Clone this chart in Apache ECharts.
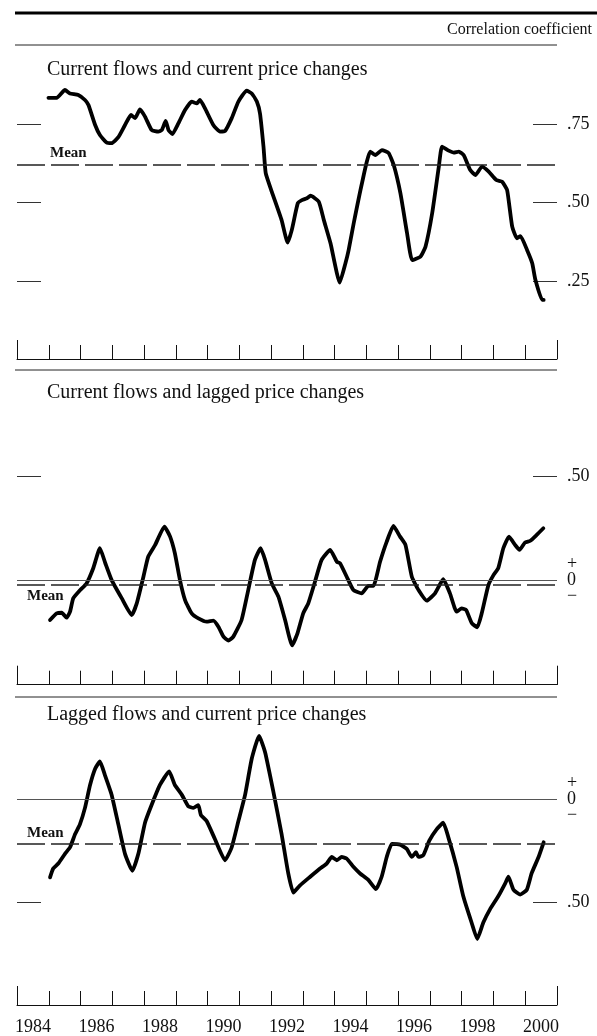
<!DOCTYPE html>
<html>
<head>
<meta charset="utf-8">
<script src="https://cdn.jsdelivr.net/npm/echarts@6/dist/echarts.min.js"></script>
<style>
  html, body { margin: 0; background: #fff; }
  #chart { width: 597px; height: 1036px; }
</style>
</head>
<body>
<div id="chart"></div>
<script>
const FONT = '"Liberation Serif", "DejaVu Serif", serif';

// x axis: one tick per year boundary, labels centred in every other year
const yearTicks = [1984, 1985, 1986, 1987, 1988, 1989, 1990, 1991, 1992, 1993, 1994, 1995, 1996, 1997, 1998, 1999, 2000, 2001];
const yearLabels = [1984, 1986, 1988, 1990, 1992, 1994, 1996, 1998, 2000];

// panel titles
const panelTitles = [
  'Current flows and current price changes',
  'Current flows and lagged price changes',
  'Lagged flows and current price changes'
];

// panel 1: current flows / current price changes
const p1Years = [1984.99, 1985.25, 1985.51, 1985.67, 1985.93, 1986.14, 1986.25, 1986.46, 1986.61, 1986.82, 1986.98, 1987.19, 1987.40, 1987.59, 1987.72, 1987.87, 1988.03, 1988.24, 1988.45, 1988.56, 1988.68, 1988.77, 1988.89, 1989.08, 1989.29, 1989.50, 1989.66, 1989.76, 1989.92, 1990.18, 1990.39, 1990.55, 1990.76, 1990.97, 1991.23, 1991.39, 1991.55, 1991.65, 1991.76, 1991.83, 1992.02, 1992.33, 1992.52, 1992.65, 1992.84, 1992.97, 1993.13, 1993.24, 1993.50, 1993.66, 1993.87, 1994.16, 1994.34, 1994.44, 1994.60, 1994.86, 1995.12, 1995.28, 1995.49, 1995.70, 1995.86, 1996.07, 1996.28, 1996.44, 1996.70, 1996.86, 1997.07, 1997.28, 1997.38, 1997.59, 1997.75, 1997.91, 1998.06, 1998.27, 1998.43, 1998.64, 1998.85, 1999.09, 1999.27, 1999.43, 1999.59, 1999.74, 1999.85, 2000.06, 2000.22, 2000.32, 2000.53, 2000.58];
const p1Vals = [0.835, 0.835, 0.86, 0.849, 0.844, 0.828, 0.812, 0.748, 0.716, 0.692, 0.69, 0.709, 0.748, 0.78, 0.77, 0.798, 0.775, 0.732, 0.727, 0.732, 0.761, 0.732, 0.719, 0.753, 0.796, 0.823, 0.817, 0.828, 0.801, 0.748, 0.727, 0.729, 0.77, 0.823, 0.858, 0.849, 0.823, 0.785, 0.679, 0.594, 0.535, 0.444, 0.372, 0.412, 0.498, 0.508, 0.514, 0.522, 0.503, 0.444, 0.37, 0.244, 0.306, 0.348, 0.434, 0.562, 0.663, 0.652, 0.668, 0.658, 0.62, 0.53, 0.402, 0.316, 0.327, 0.359, 0.466, 0.615, 0.679, 0.666, 0.66, 0.663, 0.652, 0.604, 0.588, 0.615, 0.599, 0.572, 0.567, 0.54, 0.423, 0.386, 0.393, 0.348, 0.306, 0.253, 0.189, 0.189];
const p1Mean = 0.617;

// panel 2: current flows / lagged price changes
const p2Years = [1985.04, 1985.25, 1985.41, 1985.56, 1985.67, 1985.77, 1985.99, 1986.19, 1986.40, 1986.61, 1986.78, 1986.98, 1987.30, 1987.61, 1987.77, 1987.98, 1988.13, 1988.35, 1988.64, 1988.82, 1988.97, 1989.13, 1989.29, 1989.50, 1989.71, 1989.97, 1990.18, 1990.34, 1990.50, 1990.65, 1990.81, 1991.07, 1991.28, 1991.49, 1991.67, 1991.81, 1992.02, 1992.23, 1992.44, 1992.66, 1992.83, 1993.01, 1993.17, 1993.38, 1993.59, 1993.86, 1994.07, 1994.17, 1994.38, 1994.59, 1994.85, 1995.06, 1995.22, 1995.43, 1995.64, 1995.85, 1996.06, 1996.23, 1996.43, 1996.64, 1996.90, 1997.16, 1997.42, 1997.63, 1997.84, 1998.00, 1998.14, 1998.32, 1998.49, 1998.63, 1998.84, 1999.00, 1999.15, 1999.31, 1999.49, 1999.68, 1999.82, 1999.99, 2000.16, 2000.36, 2000.57];
const p2Vals = [-0.189, -0.157, -0.154, -0.178, -0.149, -0.085, -0.045, -0.013, 0.06, 0.156, 0.084, 0.003, -0.085, -0.165, -0.109, 0.019, 0.115, 0.172, 0.26, 0.212, 0.132, 0.003, -0.093, -0.157, -0.181, -0.197, -0.192, -0.221, -0.269, -0.288, -0.269, -0.189, -0.045, 0.1, 0.156, 0.1, -0.013, -0.077, -0.189, -0.311, -0.253, -0.157, -0.109, -0.005, 0.1, 0.148, 0.091, 0.084, 0.019, -0.045, -0.061, -0.025, -0.025, 0.091, 0.188, 0.263, 0.212, 0.172, 0.019, -0.045, -0.096, -0.061, 0.007, -0.061, -0.149, -0.133, -0.141, -0.205, -0.224, -0.157, -0.021, 0.027, 0.06, 0.156, 0.212, 0.172, 0.148, 0.183, 0.192, 0.22, 0.252];
const p2Mean = -0.016;

// panel 3: lagged flows / current price changes
const p3Years = [1985.04, 1985.14, 1985.30, 1985.51, 1985.67, 1985.83, 1985.98, 1986.14, 1986.30, 1986.46, 1986.61, 1986.77, 1986.98, 1987.19, 1987.40, 1987.63, 1987.82, 1988.03, 1988.24, 1988.50, 1988.79, 1988.97, 1989.19, 1989.39, 1989.55, 1989.71, 1989.79, 1989.97, 1990.23, 1990.55, 1990.76, 1990.97, 1991.18, 1991.39, 1991.62, 1991.81, 1992.07, 1992.33, 1992.54, 1992.70, 1992.91, 1993.23, 1993.54, 1993.75, 1993.91, 1994.07, 1994.22, 1994.38, 1994.59, 1994.80, 1995.06, 1995.30, 1995.48, 1995.64, 1995.80, 1996.06, 1996.27, 1996.43, 1996.56, 1996.64, 1996.79, 1996.98, 1997.21, 1997.42, 1997.58, 1997.84, 1998.05, 1998.31, 1998.49, 1998.68, 1998.89, 1999.15, 1999.37, 1999.47, 1999.63, 1999.84, 2000.05, 2000.20, 2000.42, 2000.58];
const p3Vals = [-0.381, -0.338, -0.314, -0.267, -0.235, -0.171, -0.124, -0.044, 0.067, 0.146, 0.181, 0.114, 0.019, -0.124, -0.267, -0.349, -0.267, -0.116, -0.029, 0.067, 0.133, 0.067, 0.019, -0.036, -0.044, -0.031, -0.079, -0.108, -0.195, -0.298, -0.235, -0.108, 0.019, 0.194, 0.305, 0.226, 0.035, -0.171, -0.362, -0.455, -0.42, -0.378, -0.338, -0.314, -0.282, -0.298, -0.282, -0.29, -0.33, -0.362, -0.393, -0.438, -0.378, -0.282, -0.219, -0.222, -0.243, -0.282, -0.259, -0.282, -0.274, -0.203, -0.148, -0.116, -0.187, -0.33, -0.473, -0.6, -0.68, -0.6, -0.536, -0.473, -0.41, -0.378, -0.441, -0.465, -0.441, -0.362, -0.282, -0.211];
const p3Mean = -0.222;

// y ticks and right-hand labels per panel
const p1Ticks = [0.25, 0.5, 0.75];
const p2Ticks = [0.5];
const p3Ticks = [-0.5];
const p1Labels = [0.25, 0.5, 0.75];
const p2Labels = [0, 0.5];
const p3Labels = [0, -0.5];

const chart = echarts.init(document.getElementById('chart'));

const grids = [
  { left: 17, right: 40, top: 46.2, height: 312.8 },
  { left: 17, right: 40, top: 476.7, height: 208 },
  { left: 17, right: 40, top: 695.7, height: 315 }
];
const yRanges = [[0, 1], [-0.5, 0.5], [-1, 0.5]];
const tickSets = [p1Ticks, p2Ticks, p3Ticks];
const labelSets = [p1Labels, p2Labels, p3Labels];

function fmtY(v) {
  if (v === 0) return '+\n0\n\u2212';
  return Math.abs(v).toFixed(2).replace(/^0/, '');
}

const xAxes = [];
const yAxes = [];
grids.forEach((g, i) => {
  xAxes.push({
    type: 'value', gridIndex: i, position: 'bottom', min: 1984, max: 2001, interval: 1,
    axisLine: { onZero: false, lineStyle: { color: '#111', width: 1 } },
    axisTick: { inside: true, length: 14, customValues: yearTicks, lineStyle: { color: '#111' } },
    splitLine: { show: false },
    axisLabel: i === 2 ? {
      customValues: yearLabels.map(y => y + 0.5),
      formatter: v => String(Math.floor(v)),
      color: '#111', fontFamily: FONT, fontSize: 18, margin: 13
    } : { show: false }
  });
  // taller end ticks
  xAxes.push({
    type: 'value', gridIndex: i, position: 'bottom', min: 1984, max: 2001,
    axisLine: { show: false, onZero: false },
    axisTick: { inside: true, length: 19, customValues: [1984, 2001], lineStyle: { color: '#111' } },
    axisLabel: { show: false }, splitLine: { show: false }
  });
  yAxes.push({
    type: 'value', gridIndex: i, position: 'left', min: yRanges[i][0], max: yRanges[i][1],
    axisLine: { show: false },
    axisTick: { show: true, inside: true, length: 24, customValues: tickSets[i], lineStyle: { color: '#333' } },
    axisLabel: { show: false }, splitLine: { show: false }
  });
  yAxes.push({
    type: 'value', gridIndex: i, position: 'right', min: yRanges[i][0], max: yRanges[i][1],
    axisLine: { show: false },
    axisTick: { show: true, inside: true, length: 24, customValues: tickSets[i], lineStyle: { color: '#333' } },
    axisLabel: {
      customValues: labelSets[i], formatter: fmtY, margin: 10,
      color: '#111', fontFamily: FONT, fontSize: 18, lineHeight: 16, align: 'left'
    },
    splitLine: { show: false }
  });
});

function meanLine(value, below, dx) {
  return {
    yAxis: value,
    lineStyle: { type: [28, 6], color: '#222', width: 1.5 },
    label: {
      show: true, formatter: 'Mean', position: below ? 'insideStartBottom' : 'insideStartTop',
      distance: [dx, 4], color: '#111', fontFamily: FONT, fontWeight: 'bold', fontSize: 15
    }
  };
}
const zeroLine = { yAxis: 0, lineStyle: { type: 'solid', color: '#555', width: 1 }, label: { show: false } };

const lineStyle = { color: '#000', width: 3.8, cap: 'round', join: 'round' };
const panelData = [
  [p1Years, p1Vals, [meanLine(p1Mean, false, 33)]],
  [p2Years, p2Vals, [zeroLine, meanLine(p2Mean, true, 10)]],
  [p3Years, p3Vals, [zeroLine, meanLine(p3Mean, false, 10)]]
];

const series = panelData.map((p, i) => ({
  type: 'line',
  xAxisIndex: i * 2, yAxisIndex: i * 2,
  data: p[0].map((y, k) => [y, p[1][k]]),
  showSymbol: false, smooth: 0.15, clip: false,
  lineStyle: lineStyle,
  markLine: { symbol: 'none', silent: true, animation: false, data: p[2] },
  animation: false
}));

const titleStyle = { fontFamily: FONT, fontSize: 20, fontWeight: 'normal', color: '#111' };

chart.setOption({
  animation: false,
  title: [
    { text: 'Correlation coefficient', right: 5, top: 22, padding: 0,
      textStyle: { fontFamily: FONT, fontSize: 16, fontWeight: 'normal', color: '#111' } },
    { text: panelTitles[0], left: 47, top: 60, padding: 0, textStyle: titleStyle },
    { text: panelTitles[1], left: 47, top: 383, padding: 0, textStyle: titleStyle },
    { text: panelTitles[2], left: 47, top: 705, padding: 0, textStyle: titleStyle }
  ],
  grid: grids,
  xAxis: xAxes,
  yAxis: yAxes,
  series: series,
  graphic: [
    { type: 'line', shape: { x1: 15, y1: 13, x2: 597, y2: 13 }, style: { stroke: '#000', lineWidth: 3 } },
    { type: 'line', shape: { x1: 15, y1: 45, x2: 557, y2: 45 }, style: { stroke: '#222', lineWidth: 1 } },
    { type: 'line', shape: { x1: 15, y1: 370, x2: 557, y2: 370 }, style: { stroke: '#222', lineWidth: 1 } },
    { type: 'line', shape: { x1: 15, y1: 697, x2: 557, y2: 697 }, style: { stroke: '#222', lineWidth: 1 } }
  ]
});
</script>
</body>
</html>
